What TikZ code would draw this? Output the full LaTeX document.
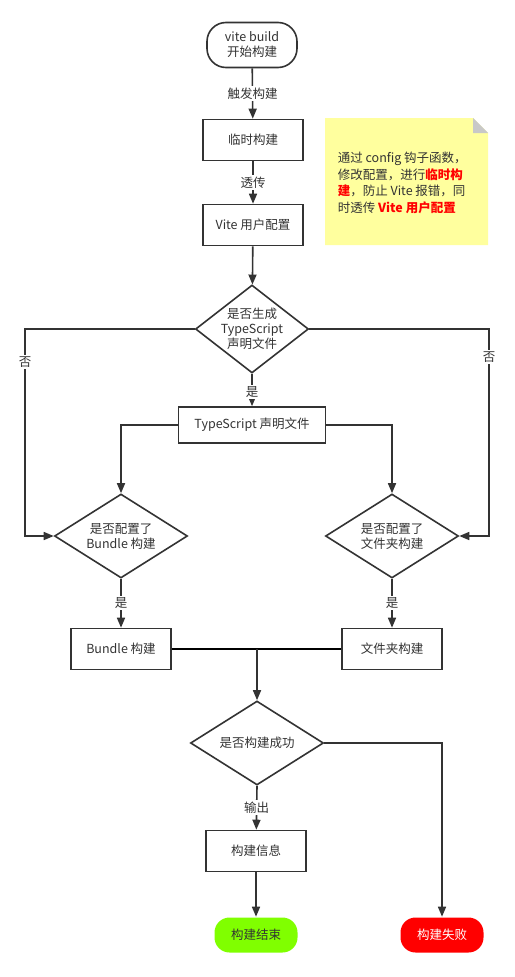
\documentclass[tikz,border=0pt]{standalone}
\usepackage{fontspec}
\setmainfont{Noto Sans CJK SC}
\usetikzlibrary{arrows.meta,shapes.geometric}
\definecolor{fcline}{HTML}{333333}
\definecolor{fcnote}{HTML}{FFFF9E}
\definecolor{fcfold}{HTML}{C8C8C8}
\definecolor{fcgreen}{HTML}{80FF00}
\definecolor{fcred}{HTML}{FF0000}

\begin{document}
\begin{tikzpicture}[x=1pt, y=-1pt, line width=1.6pt, >={Triangle[length=10pt,width=8pt]},
  every node/.style={font=\fontsize{12.5}{15}\selectfont, text=fcline},
  box/.style={draw=fcline, rectangle, minimum width=100pt, minimum height=41pt, inner sep=2pt},
  term/.style={draw=fcline, rectangle, rounded corners=19pt, minimum width=90pt, minimum height=45pt, align=center, inner sep=1pt},
  endbox/.style={rectangle, rounded corners=15pt, minimum width=83pt, minimum height=35pt, inner sep=1pt},
  decide/.style={draw=fcline, diamond, align=center, inner sep=-8pt},
  elabel/.style={fill=white, inner sep=1.5pt},
  arr/.style={->, draw=fcline}]
  \fill[white] (0,0) rectangle (514,977);
  \useasboundingbox (0,0) rectangle (514,977);
  % main column
  \node[term] (start) at (252,45) {vite build\\开始构建};
  \node[box] (tmp) at (253,140) {临时构建};
  \node[box] (cfg) at (253,225) {Vite 用户配置};
  \node[decide, minimum width=113pt, minimum height=88pt] (d1) at (252,329) {是否生成\\TypeScript\\声明文件};
  \node[box, minimum width=147pt, minimum height=36pt] (ts) at (252,425) {TypeScript 声明文件};
  \node[decide, minimum width=133pt, minimum height=84pt] (d2) at (121,536) {是否配置了\\Bundle 构建};
  \node[decide, minimum width=133pt, minimum height=84pt] (d3) at (392,536) {是否配置了\\文件夹构建};
  \node[box] (bundle) at (121,649) {Bundle 构建};
  \node[box] (folder) at (392,649) {文件夹构建};
  \node[decide, minimum width=133pt, minimum height=84pt] (d4) at (257,743) {是否构建成功};
  \node[box] (info) at (256,851) {构建信息};
  \node[endbox, fill=fcgreen] (done) at (256,935) {构建结束};
  \node[endbox, fill=fcred, text=white] (fail) at (442,935) {构建失败};
  % note
  \filldraw[fill=fcnote, draw=none] (325,118) -- (473,118) -- (488,133) -- (488,245) -- (325,245) -- cycle;
  \fill[fcfold] (473,118) -- (488,133) -- (473,133) -- cycle;
  \node[anchor=west, align=left, inner sep=0pt, font=\fontsize{12.5}{16.5}\selectfont] (memo) at (337,183) {通过 config 钩子函数，\\修改配置，进行\textbf{\color{fcred}临时构}\\\textbf{\color{fcred}建}，防止 Vite 报错，同\\时透传 \textbf{\color{fcred}Vite 用户配置}};
  % connectors
  \draw[arr] (start) -- node[elabel] {触发构建} (tmp);
  \draw[arr] (tmp) -- node[elabel] {透传} (cfg);
  \draw[arr] (cfg) -- (d1);
  \draw[arr] (d1) -- node[elabel, pos=0.55] {是} (ts);
  \coordinate (lft) at (25,329);
  \coordinate (rgt) at (489,329);
  \draw[arr] (d1.west) -- (lft) -- node[elabel, pos=0.16] {否} (lft |- d2.west) -- (d2.west);
  \draw[arr] (d1.east) -- (rgt) -- node[elabel, pos=0.135] {否} (rgt |- d3.east) -- (d3.east);
  \draw[arr] (ts.west) -| (d2.north);
  \draw[arr] (ts.east) -| (d3.north);
  \draw[arr] (d2.south) -- node[elabel] {是} (bundle);
  \draw[arr] (d3.south) -- node[elabel] {是} (folder);
  \draw (bundle.east) -- (folder.west);
  \coordinate (join) at (d4.north |- bundle.east);
  \draw[arr] (join) -- (d4.north);
  \draw[arr] (d4.south) -- node[elabel] {输出} (info);
  \draw[arr] (d4.east) -| (fail.north);
  \draw[arr] (info) -- (done);
\end{tikzpicture}
\end{document}
